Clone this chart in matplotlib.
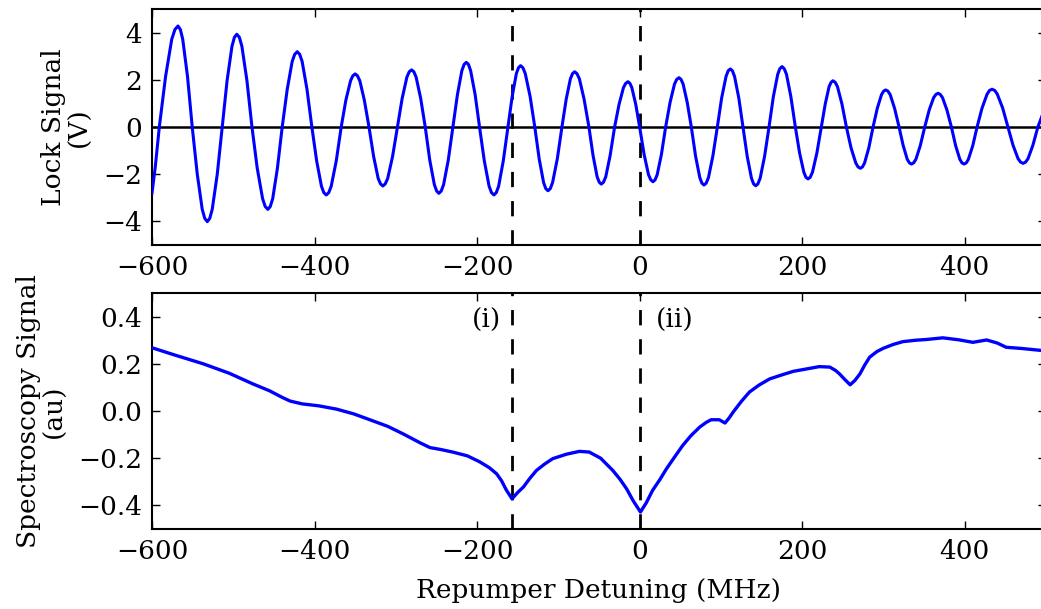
import matplotlib
matplotlib.use("Agg")
import matplotlib.pyplot as plt

plt.rcParams['font.family'] = ['DejaVu Serif']
plt.rcParams['axes.unicode_minus'] = True
plt.rcParams['lines.scale_dashes'] = False

# ---- data ----
lock_x = [
    -600, -596, -591,
    -583.3, -575.7, -571.8, -568, -565.1, -562.2, -556.3, -550.5,
    -544.3, -538.2, -535.1, -532, -528.9, -525.9, -519.7, -513.6,
    -507.6, -501.6, -498.6, -495.6, -492.5, -489.4, -483.2, -477,
    -470.5, -463.9, -460.7, -457.4, -454.5, -451.5, -445.7, -439.8,
    -433.6, -427.5, -424.4, -421.3, -418.3, -415.3, -409.3, -403.3,
    -397.4, -391.5, -388.6, -385.6, -382.5, -379.5, -373.3, -367.2,
    -361.5, -355.7, -352.9, -350, -347.2, -344.3, -338.7, -333,
    -327.3, -321.7, -318.8, -316, -313, -310, -304, -298,
    -292.2, -286.4, -283.5, -280.6, -277.8, -275, -269.4, -263.8,
    -258.2, -252.6, -249.8, -247, -244.1, -241.2, -235.5, -229.7,
    -224.2, -218.8, -216, -213.3, -210.6, -207.9, -202.4, -197,
    -191.1, -185.2, -182.3, -179.3, -176.4, -173.5, -167.8, -162,
    -156.8, -151.7, -149.1, -146.5, -143.6, -140.7, -134.8, -129,
    -123.6, -118.2, -115.5, -112.8, -109.9, -107.1, -101.3, -95.6,
    -90.4, -85.2, -82.6, -80, -77.1, -74.1, -68.3, -62.4,
    -57.3, -52.3, -49.7, -47.2, -44.5, -41.7, -36.3, -30.8,
    -25.3, -19.9, -17.1, -14.4, -12, -9.6, -4.8, 0,
    5.5, 10.9, 13.7, 16.4, 19, 21.6, 26.8, 32,
    37.5, 42.9, 45.7, 48.4, 50.9, 53.5, 58.5, 63.6,
    68.8, 74, 76.6, 79.2, 81.9, 84.7, 90.1, 95.6,
    100.9, 106.3, 108.9, 111.6, 114.2, 116.8, 122, 127.2,
    132.4, 137.6, 140.2, 142.8, 145.5, 148.3, 153.7, 159.2,
    164.5, 169.9, 172.5, 175.2, 177.9, 180.7, 186.1, 191.6,
    196.8, 202, 204.6, 207.2, 209.9, 212.7, 218.1, 223.6,
    228.4, 233.1, 235.5, 237.9, 240.7, 243.4, 248.9, 254.4,
    260.1, 265.9, 268.7, 271.6, 274.2, 276.8, 282, 287.2,
    292.4, 297.6, 300.2, 302.8, 305.5, 308.3, 313.7, 319.2,
    324.3, 329.3, 331.9, 334.4, 337.1, 339.9, 345.3, 350.8,
    356.3, 361.7, 364.5, 367.2, 369.9, 372.7, 378.1, 383.6,
    388.8, 394, 396.6, 399.2, 401.9, 404.5, 409.9, 415.2,
    421.3, 427.5, 430.5, 433.6, 436.9, 440.1, 446.7, 453.2,
    459.4, 465.6, 468.7, 471.8, 474.8, 477.9, 483.9, 490,
    496,
]
lock_v = [
    -2.8, -1.7, 0,
    2.14, 3.72, 4.13, 4.28, 4.13, 3.72, 2.14, 0,
    -2.0, -3.49, -3.87, -4.01, -3.87, -3.49, -2.0, 0,
    1.97, 3.42, 3.8, 3.93, 3.8, 3.42, 1.97, 0,
    -1.75, -3.04, -3.37, -3.49, -3.37, -3.04, -1.75, 0,
    1.6, 2.78, 3.08, 3.19, 3.08, 2.78, 1.6, 0,
    -1.44, -2.51, -2.78, -2.88, -2.78, -2.51, -1.44, 0,
    1.13, 1.96, 2.17, 2.25, 2.17, 1.96, 1.13, 0,
    -1.25, -2.18, -2.41, -2.5, -2.41, -2.18, -1.25, 0,
    1.21, 2.11, 2.34, 2.42, 2.34, 2.11, 1.21, 0,
    -1.41, -2.44, -2.71, -2.81, -2.71, -2.44, -1.41, 0,
    1.37, 2.38, 2.65, 2.74, 2.65, 2.38, 1.37, 0,
    -1.44, -2.51, -2.78, -2.88, -2.78, -2.51, -1.44, 0,
    1.3, 2.26, 2.51, 2.6, 2.51, 2.26, 1.3, 0,
    -1.35, -2.35, -2.61, -2.7, -2.61, -2.35, -1.35, 0,
    1.17, 2.04, 2.26, 2.34, 2.26, 2.04, 1.17, 0,
    -1.21, -2.11, -2.34, -2.42, -2.34, -2.11, -1.21, 0,
    0.96, 1.67, 1.85, 1.92, 1.85, 1.67, 0.96, 0,
    -1.16, -2.02, -2.24, -2.32, -2.24, -2.02, -1.16, 0,
    1.05, 1.82, 2.02, 2.09, 2.02, 1.82, 1.05, 0,
    -1.23, -2.14, -2.38, -2.46, -2.38, -2.14, -1.23, 0,
    1.23, 2.14, 2.38, 2.46, 2.38, 2.14, 1.23, 0,
    -1.25, -2.17, -2.41, -2.49, -2.41, -2.17, -1.25, 0,
    1.28, 2.23, 2.47, 2.56, 2.47, 2.23, 1.28, 0,
    -1.1, -1.91, -2.13, -2.2, -2.13, -1.91, -1.1, 0,
    0.98, 1.71, 1.89, 1.96, 1.89, 1.71, 0.98, 0,
    -0.88, -1.52, -1.69, -1.75, -1.69, -1.52, -0.88, 0,
    0.79, 1.37, 1.52, 1.57, 1.52, 1.37, 0.79, 0,
    -0.79, -1.37, -1.52, -1.57, -1.52, -1.37, -0.79, 0,
    0.72, 1.24, 1.38, 1.43, 1.38, 1.24, 0.72, 0,
    -0.79, -1.37, -1.52, -1.57, -1.52, -1.37, -0.79, 0,
    0.8, 1.39, 1.55, 1.6, 1.55, 1.39, 0.8, 0,
    -0.77, -1.34, -1.49, -1.54, -1.49, -1.34, -0.77, 0,
    0.55,
]

spec_x = [
    -600, -570, -537, -505, -476, -455, -440, -430, -415, -395, -373, -352,
    -332, -310, -291, -270, -258, -245, -230, -212, -197, -185, -176, -170,
    -164, -157, -150, -143, -135, -127, -117, -107, -90, -74, -62, -48,
    -33, -24, -16, -8, 1, 8, 16, 25, 33, 43, 53, 63, 74, 82, 88, 98,
    105, 110, 115, 125, 135, 147, 160, 175, 189, 205, 221, 234, 241, 246,
    252, 259, 265, 271, 277, 283, 292, 300, 312, 324, 340, 353, 373, 392,
    410, 427, 440, 451, 470, 496,
]
spec_v = [
    0.268, 0.235, 0.2, 0.16, 0.115, 0.085, 0.058, 0.042, 0.03, 0.022, 0.008, -0.012,
    -0.037, -0.065, -0.097, -0.135, -0.155, -0.163, -0.174, -0.19, -0.215, -0.24, -0.266, -0.295,
    -0.335, -0.372, -0.345, -0.322, -0.285, -0.252, -0.225, -0.202, -0.183, -0.171, -0.174, -0.2,
    -0.252, -0.29, -0.33, -0.38, -0.428, -0.39, -0.336, -0.29, -0.245, -0.195, -0.146, -0.105, -0.068, -0.048, -0.037, -0.037,
    -0.051, -0.03, -0.005, 0.04, 0.08, 0.11, 0.136, 0.153, 0.168, 0.178, 0.188, 0.186, 0.172, 0.157,
    0.135, 0.111, 0.13, 0.157, 0.195, 0.228, 0.252, 0.266, 0.282, 0.294, 0.3, 0.303, 0.31, 0.302,
    0.291, 0.301, 0.288, 0.27, 0.265, 0.256,
]

marker_x = [-157, 0]
marker_labels = ["(i)", "(ii)"]
marker_label_x = [-188, 43]
marker_label_y = 0.383

x_ticks = [-600, -400, -200, 0, 200, 400]
lock_yticks = [-4, -2, 0, 2, 4]
spec_yticks = [-0.4, -0.2, 0.0, 0.2, 0.4]

FS = 19

fig = plt.figure(figsize=(10.41, 6.09), dpi=100)
ax1 = fig.add_axes([152/1041, 1 - 245/609, (1046 - 152)/1041, (245 - 9)/609])
ax2 = fig.add_axes([152/1041, 1 - 529/609, (1046 - 152)/1041, (529 - 293)/609])

for ax in (ax1, ax2):
    ax.set_xlim(-600, 500)
    ax.set_xticks(x_ticks)
    ax.tick_params(direction='in', top=True, right=True, length=6, width=1,
                   labelsize=FS, pad=7)
    for s in ax.spines.values():
        s.set_linewidth(1.5)
    for mx in marker_x:
        ax.axvline(mx, color='black', lw=2, dashes=(11, 10), zorder=1)

ax1.plot(lock_x, lock_v, color='blue', lw=2.2, zorder=3, solid_joinstyle='round')
ax1.axhline(0, color='black', lw=1.8, zorder=2)
ax1.set_ylim(-5, 5)
ax1.set_yticks(lock_yticks)
ax1.set_ylabel("Lock Signal\n(V)", fontsize=FS, labelpad=8, linespacing=1.05)

ax2.plot(spec_x, spec_v, color='blue', lw=2.4, zorder=3, solid_joinstyle='round')
ax2.set_ylim(-0.5, 0.5)
ax2.set_yticks(spec_yticks)
ax2.set_ylabel("Spectroscopy Signal\n(au)", fontsize=FS, labelpad=8, linespacing=1.05)
ax2.set_xlabel("Repumper Detuning (MHz)", fontsize=FS, labelpad=10)

for lx, lab in zip(marker_label_x, marker_labels):
    ax2.text(lx, marker_label_y, lab, fontsize=FS, ha='center', va='center')

fig.savefig("out.png", dpi=100)
